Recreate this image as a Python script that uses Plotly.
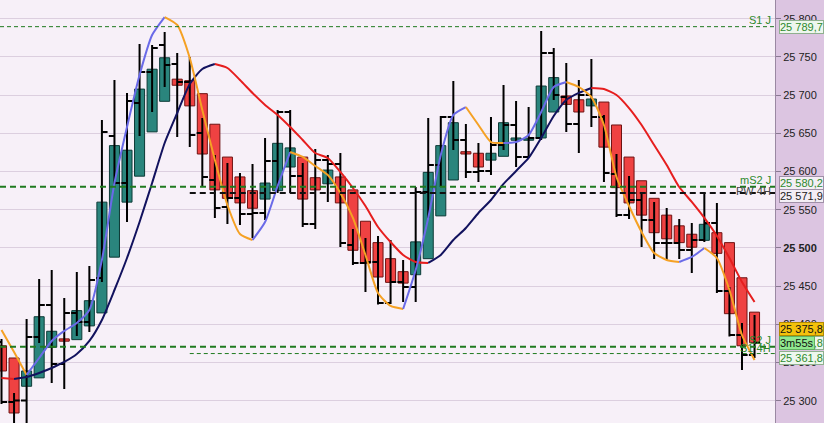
import plotly.graph_objects as go

# ---------------- data ----------------
ha_open = [25372, 25356, 25319, 25330, 25370, 25381, 25380, 25398, 25415, 25488,
           25560, 25594, 25652, 25692, 25721, 25719, 25702, 25662, 25619, 25593,
           25575, 25564, 25575, 25606, 25619, 25592, 25584, 25593, 25576, 25535,
           25507, 25486, 25469, 25465, 25486, 25542, 25589, 25626, 25624, 25615,
           25620, 25641, 25641, 25644, 25678, 25699, 25694, 25686, 25691, 25661,
           25619, 25588, 25565, 25543, 25529, 25518, 25510, 25520, 25507, 25461, 25416]
ha_close = [25339, 25284, 25339, 25410, 25391, 25378, 25418, 25431, 25560, 25634,
            25628, 25708, 25734, 25749, 25713, 25686, 25623, 25576, 25565, 25559,
            25552, 25585, 25637, 25631, 25564, 25576, 25602, 25559, 25497, 25480,
            25462, 25455, 25454, 25508, 25599, 25634, 25664, 25623, 25606, 25624,
            25664, 25644, 25643, 25712, 25723, 25688, 25678, 25695, 25632, 25579,
            25559, 25543, 25520, 25512, 25507, 25501, 25531, 25493, 25414, 25372, 25376]

bar_open = [25377.0, 25298.4, 25300.5, 25383.5, 25425.4, 25348.2, 25414.9, 25403.1, 25460.7, 25646.6,
            25585.1, 25689.8, 25730.4, 25765.7, 25740.8, 25717.3, 25650.5, 25589.0, 25553.7, 25565.4,
            25544.5, 25545.8, 25613.9, 25678.0, 25594.2, 25531.4, 25615.2, 25609.9, 25503.9, 25480.4,
            25481.7, 25428.0, 25455.5, 25448.9, 25573.3, 25608.6, 25671.5, 25641.4, 25599.5, 25600.8,
            25634.8, 25661.0, 25619.1, 25644.0, 25755.2, 25697.6, 25662.3, 25700.3, 25671.5, 25596.9,
            25543.2, 25562.8, 25536.6, 25506.5, 25506.5, 25497.4, 25510.5, 25532.7, 25443.7, 25386.1, 25359.9]
bar_high = [25380.9, 25310.2, 25407.1, 25459.4, 25471.2, 25434.5, 25468.6, 25476.4, 25667.5, 25719.9,
            25702.9, 25767.0, 25765.7, 25782.7, 25755.2, 25750.0, 25670.1, 25621.7, 25611.2, 25598.2,
            25609.9, 25644.0, 25680.6, 25680.6, 25611.2, 25629.6, 25621.7, 25624.3, 25524.9, 25513.1,
            25515.7, 25510.5, 25484.3, 25579.8, 25670.1, 25672.8, 25718.6, 25662.3, 25637.4, 25671.5,
            25713.3, 25692.4, 25684.5, 25784.0, 25761.8, 25742.1, 25719.9, 25747.4, 25674.1, 25623.0,
            25594.2, 25572.0, 25560.2, 25552.3, 25538.0, 25532.7, 25572.0, 25558.9, 25448.9, 25401.8, 25412.3]
bar_low = [25295.8, 25235.6, 25264.4, 25375.6, 25323.3, 25315.4, 25384.8, 25390.0, 25455.5, 25583.0,
           25534.0, 25646.6, 25678.0, 25710.7, 25645.3, 25632.2, 25579.8, 25539.3, 25531.4, 25530.1,
           25513.1, 25536.6, 25572.0, 25572.0, 25527.5, 25524.9, 25560.2, 25501.3, 25477.7, 25442.4,
           25426.0, 25426.7, 25429.3, 25429.3, 25539.3, 25579.8, 25628.3, 25591.6, 25586.4, 25595.5,
           25628.3, 25606.0, 25617.8, 25641.4, 25693.7, 25651.8, 25624.3, 25658.4, 25586.4, 25540.6,
           25538.0, 25501.3, 25485.6, 25484.3, 25485.6, 25467.3, 25507.8, 25441.1, 25384.0, 25340.3, 25356.0]
bar_close = [25298.4, 25300.5, 25383.5, 25425.4, 25348.2, 25414.9, 25403.1, 25458.1, 25651.8, 25585.1,
             25692.4, 25730.4, 25761.8, 25739.5, 25717.3, 25647.9, 25592.9, 25552.3, 25565.4, 25544.5,
             25545.8, 25613.9, 25678.0, 25594.2, 25531.4, 25615.2, 25609.9, 25506.5, 25480.4, 25481.7,
             25428.0, 25455.5, 25448.9, 25573.3, 25608.6, 25671.5, 25641.4, 25599.5, 25600.8, 25634.8,
             25661.0, 25619.1, 25644.0, 25755.2, 25700.3, 25662.3, 25700.3, 25671.5, 25598.2, 25543.2,
             25562.8, 25536.6, 25506.5, 25506.5, 25497.4, 25510.5, 25532.7, 25443.7, 25386.1, 25359.9, 25375.8]

fast_ma = [25392.7, 25363.9, 25333.8, 25356.0, 25378.3, 25391.4, 25401.8, 25418.8, 25484.3, 25585.1,
           25658.4, 25726.4, 25778.8, 25802.3, 25791.9, 25748.7, 25680.6, 25615.2, 25556.3, 25518.3,
           25510.5, 25534.0, 25581.1, 25625.6, 25619.1, 25607.3, 25595.5, 25572.0, 25539.3, 25490.8,
           25441.1, 25424.1, 25420.1, 25471.2, 25539.3, 25621.7, 25674.1, 25684.5, 25661.0, 25638.7,
           25637.4, 25638.7, 25647.9, 25678.0, 25710.7, 25717.3, 25710.7, 25697.6, 25661.0, 25592.9,
           25555.0, 25520.9, 25493.4, 25484.3, 25481.7, 25488.2, 25500.0, 25486.9, 25445.0, 25386.1, 25353.4]
slow_ma = [25329.8, 25328.5, 25331.1, 25336.4, 25342.9, 25350.8, 25361.2, 25378.3, 25405.8, 25445.0,
           25486.9, 25534.0, 25585.1, 25637.4, 25676.7, 25714.7, 25734.3, 25740.8, 25735.6, 25719.9,
           25702.9, 25687.2, 25674.1, 25658.4, 25641.4, 25624.3, 25617.8, 25599.5, 25578.5, 25554.9,
           25527.5, 25507.8, 25490.8, 25481.7, 25480.4, 25490.8, 25510.5, 25526.2, 25545.8, 25562.8,
           25583.8, 25600.8, 25617.8, 25644.0, 25672.8, 25693.7, 25702.9, 25709.4, 25708.1, 25700.3,
           25683.2, 25661.0, 25634.8, 25608.6, 25579.8, 25560.2, 25539.3, 25515.7, 25486.9, 25455.5, 25429.3]

level_names = ["S1 J", "mS2 J", "PW 4H", "S2 J", "S1 4H"]
level_values = [25789.7, 25580.2, 25571.9, 25370.8, 25361.8]

tick_values = [25300, 25350, 25400, 25450, 25500, 25550, 25600, 25650, 25700, 25750, 25800]
tick_labels = ["25 300", "25 350", "25 400", "25 450", "<b>25 500</b>", "25 550",
               "25 600", "25 650", "25 700", "25 750", "25 800"]

last_price = 25375.8
countdown = "3m55s"

# ---------------- figure ----------------
n = len(ha_open)
xs = list(range(n))
X_MIN, X_MAX = -0.12, 61.63

TEAL, TEAL_LINE = "#2a857d", "#0c3a36"
RED, RED_LINE = "#ef4242", "#6e1212"

fig = go.Figure()

# Heikin-Ashi style bodies
body_base = [min(o, c) for o, c in zip(ha_open, ha_close)]
body_h = [max(abs(c - o), 0.8) for o, c in zip(ha_open, ha_close)]
fill = [TEAL if c >= o else RED for o, c in zip(ha_open, ha_close)]
edge = [TEAL_LINE if c >= o else RED_LINE for o, c in zip(ha_open, ha_close)]
fig.add_trace(go.Bar(x=xs, y=body_h, base=body_base, width=0.8,
                     marker=dict(color=fill, line=dict(color=edge, width=1)),
                     hoverinfo="skip"))

# real OHLC bars in black
fig.add_trace(go.Ohlc(x=xs, open=bar_open, high=bar_high, low=bar_low, close=bar_close,
                      increasing=dict(line=dict(color="black", width=2)),
                      decreasing=dict(line=dict(color="black", width=2)),
                      tickwidth=0.45, hoverinfo="skip"))


def add_colored_line(values, up_color, down_color, width):
    runs = []
    start = 0
    cur = values[1] >= values[0]
    for i in range(1, n - 1):
        d = values[i + 1] >= values[i]
        if d != cur:
            runs.append((start, i, cur))
            start = i
            cur = d
    runs.append((start, n - 1, cur))
    for a, b, up in runs:
        fig.add_trace(go.Scatter(x=xs[a:b + 1], y=values[a:b + 1], mode="lines",
                                 line=dict(color=up_color if up else down_color, width=width,
                                           shape="spline", smoothing=0.6),
                                 hoverinfo="skip"))


add_colored_line(slow_ma, "#12125e", "#e61e1e", 2)
add_colored_line(fast_ma, "#6a6ae8", "#f5a124", 2)

# horizontal levels
level_style = {
    "S1 J": dict(color="#1f7a1f", width=1, dash="4px,3px", start=X_MIN),
    "mS2 J": dict(color="#1f7a1f", width=2, dash="6px,4px", start=X_MIN),
    "PW 4H": dict(color="#111111", width=2, dash="6px,4px", start=15),
    "S2 J": dict(color="#1f7a1f", width=2, dash="6px,4px", start=X_MIN),
    "S1 4H": dict(color="#1f7a1f", width=1, dash="4px,3px", start=15),
}
for name, val in zip(level_names, level_values):
    st = level_style[name]
    fig.add_trace(go.Scatter(x=[st["start"], X_MAX], y=[val, val], mode="lines",
                             line=dict(color=st["color"], width=st["width"], dash=st["dash"]),
                             hoverinfo="skip"))

annotations = []
# labels of levels on the chart
lab_style = {
    "S1 J": ("#2d8a2d", 7),
    "mS2 J": ("#2d8a2d", 7),
    "PW 4H": ("#444444", 2),
    "S2 J": ("#2d8a2d", 7),
    "S1 4H": ("#2d8a2d", 6),
}
for name, val in zip(level_names, level_values):
    col, ys = lab_style[name]
    annotations.append(dict(xref="paper", x=773 / 775, xanchor="right", yref="y", y=val,
                            yanchor="middle", yshift=ys, text=name, showarrow=False,
                            font=dict(family="Arial", size=11, color=col)))

# price boxes on the axis
box_style = {
    "S1 J": dict(font="#2d8a2d", bg="#eef7ee", border="#8fb08f", ys=0),
    "mS2 J": dict(font="#2d8a2d", bg="#f3eef5", border="#a090a8", ys=4),
    "PW 4H": dict(font="#222222", bg="#f3eef5", border="#a090a8", ys=-3),
    "S2 J": dict(font="#2d8a2d", bg="#eef7ee", border="#8fb08f", ys=4),
    "S1 4H": dict(font="#2d8a2d", bg="#eef7ee", border="#8fb08f", ys=-4),
}


def fmt(v):
    s = f"{v:,.1f}".replace(",", " ").replace(".", ",")
    return s


for name, val in zip(level_names, level_values):
    b = box_style[name]
    annotations.append(dict(xref="paper", x=1, xanchor="left", xshift=4, yref="y", y=val,
                            yanchor="middle", yshift=b["ys"], text=fmt(val), showarrow=False,
                            bgcolor=b["bg"], bordercolor=b["border"], borderwidth=1, borderpad=0,
                            font=dict(family="Arial", size=11, color=b["font"])))

annotations.append(dict(xref="paper", x=1, xanchor="left", xshift=4, yref="y", y=last_price,
                        yanchor="middle", yshift=14, text=fmt(last_price), showarrow=False,
                        bgcolor="#f4c20d", bordercolor="#b08a00", borderwidth=1, borderpad=0,
                        font=dict(family="Arial", size=11, color="#111")))
annotations.append(dict(xref="paper", x=1, xanchor="left", xshift=4, yref="y", y=last_price,
                        yanchor="middle", yshift=0, text=countdown, showarrow=False,
                        bgcolor="#90e890", bordercolor="#60b060", borderwidth=1, borderpad=0,
                        font=dict(family="Arial", size=11, color="#111")))

fig.update_layout(
    width=824, height=423,
    margin=dict(l=0, r=49, t=0, b=0),
    paper_bgcolor="#dcc5e1",
    plot_bgcolor="#f7f0f8",
    showlegend=False,
    annotations=annotations,
    xaxis=dict(range=[X_MIN, X_MAX], visible=False, rangeslider=dict(visible=False)),
    yaxis=dict(side="right", range=[25270.9, 25824.6], tickvals=tick_values, ticktext=tick_labels,
               showgrid=True, gridcolor="#dccfdf", gridwidth=1, zeroline=False,
               ticks="outside", ticklen=5, tickcolor="#8a7a92", showline=True, linecolor="#9a88a2",
               tickfont=dict(family="Arial", size=11, color="#222222")),
)

fig.write_html("out.html", config={"displayModeBar": False},
               post_script="document.body.style.margin='0';document.body.style.overflow='hidden';")
